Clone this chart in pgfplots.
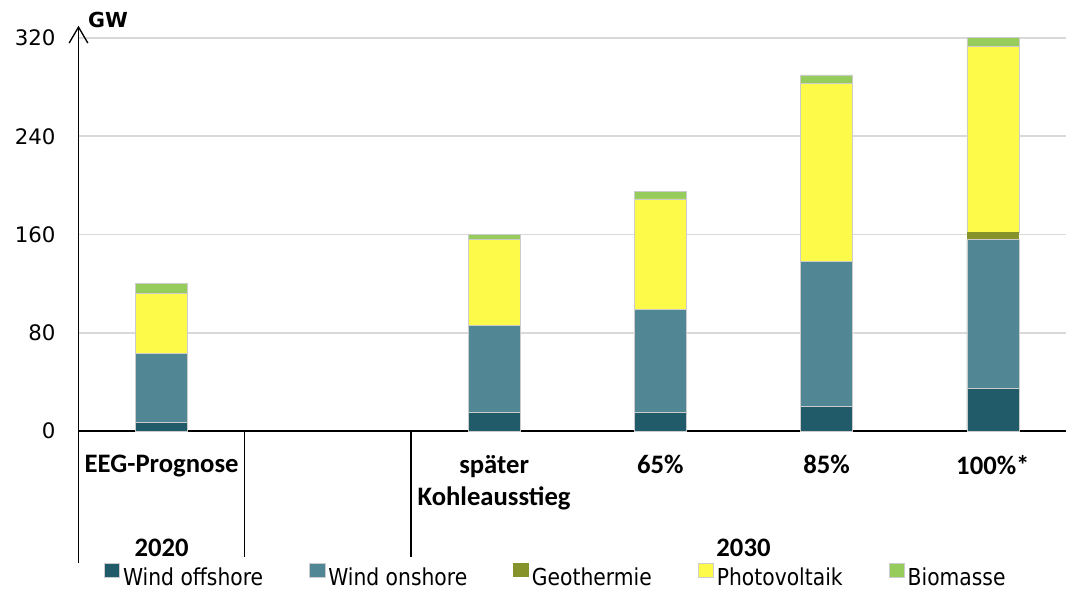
\documentclass[border=0pt]{standalone}
\usepackage{fontspec}
\setmainfont{DejaVu Sans}
\newfontfamily\catfont{Carlito}
\newfontfamily\legfont{DejaVu Sans}[FakeStretch=0.87]
\usepackage{pgfplots}
\pgfplotsset{compat=1.18}
\usetikzlibrary{arrows.meta}

\definecolor{offshore}{HTML}{215A69}
\definecolor{onshore}{HTML}{518795}
\definecolor{geo}{HTML}{86922A}
\definecolor{pv}{HTML}{FEFA4A}
\definecolor{bio}{HTML}{96CC5C}
\definecolor{gridgray}{HTML}{D9D9D9}

\newcommand{\catf}{\catfont\bfseries\fontsize{20}{24}\selectfont}

\begin{document}
\begin{tikzpicture}
\path[use as bounding box] (-58.875pt,-120.75pt) rectangle (740.625pt,323.25pt);
\begin{axis}[
    scale only axis,
    width=740.625pt, height=303.96pt,
    xmin=-0.5, xmax=5.44, ymin=0, ymax=330,
    axis x line=bottom, axis y line=left,
    x axis line style={-, line width=1pt},
    y axis line style={-{Straight Barb[length=12pt,width=14pt]}, line width=1pt},
    ytick={0,80,160,240,320},
    ymajorgrids, grid style={line width=1.2pt, gridgray},
    major tick length=0pt,
    xtick={0,2,3,4,5},
    xticklabels={EEG-Prognose, {später\\Kohleausstieg}, 65\%, 85\%, 100\%*},
    xticklabel style={font=\catf, align=center, anchor=north, inner sep=0pt, yshift=-18pt},
    yticklabel style={font=\fontsize{16}{19}\selectfont, anchor=east, inner sep=0pt, xshift=-17pt},
    /pgf/number format/assume math mode=true,
    ybar stacked, bar width=0.313,
    clip=false,
    legend columns=5,
    legend style={at={(0.484,-0.3553)}, anchor=center, draw=none, fill=none,
      font=\legfont\fontsize{17.5}{20}\selectfont, inner sep=0pt,
      nodes={inner xsep=2.5pt, inner ysep=0pt},
      /tikz/every even column/.append style={column sep=32pt}},
    legend image code/.code={\fill[#1] (0pt,0pt) rectangle (11.5pt,10.5pt);},
  ]
  \addplot[fill=offshore, draw=white!80!black, line width=0.3pt] coordinates {(0,7) (2,15) (3,15) (4,20) (5,35)};
  \addplot[fill=onshore, draw=white!80!black, line width=0.3pt] coordinates {(0,56) (2,71) (3,84) (4,118) (5,121)};
  \addplot[fill=geo, draw=none] coordinates {(0,0) (2,0) (3,0) (4,0) (5,6)};
  \addplot[fill=pv, draw=white!80!black, line width=0.3pt] coordinates {(0,49) (2,70) (3,90) (4,145) (5,151)};
  \addplot[fill=bio, draw=white!80!black, line width=0.3pt] coordinates {(0,8) (2,4) (3,6) (4,7) (5,7.5)};
  \legend{Wind offshore, Wind onshore, Geothermie, Photovoltaik, Biomasse}

  \draw[line width=1pt] (axis cs:-0.5,0) -- ++(0pt,-99pt);
  \draw[line width=1pt] (axis cs:0.5,0) -- ++(0pt,-94.5pt);
  \draw[line width=1pt] (axis cs:1.5,0) -- ++(0pt,-94.5pt);
  \node[font=\catf] at (axis cs:0,0) [yshift=-88pt] {2020};
  \node[font=\catf] at (axis cs:3.5,0) [yshift=-88pt] {2030};
  \node[font=\bfseries\fontsize{15.5}{18}\selectfont, anchor=base west, inner sep=0pt]
    at (rel axis cs:0,1) [xshift=7pt, yshift=-1.5pt] {GW};
\end{axis}
\end{tikzpicture}
\end{document}
